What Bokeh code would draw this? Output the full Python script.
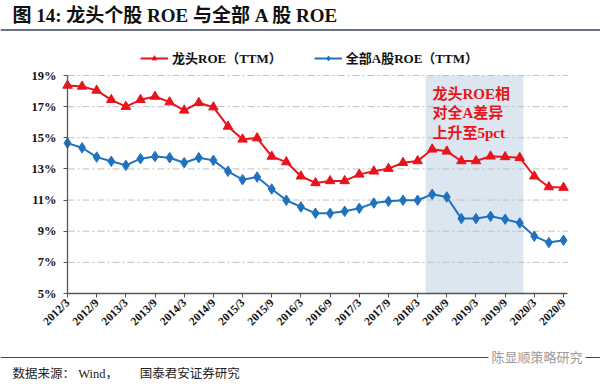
import math
from bokeh.plotting import figure
from bokeh.models import (Range1d, FixedTicker, Label, Legend, LegendItem,
                          BoxAnnotation, PrintfTickFormatter, Span)
from bokeh.embed import file_html
from bokeh.resources import INLINE

# ---------------- data ----------------
quarters = ["2012/3", "2012/6", "2012/9", "2012/12",
            "2013/3", "2013/6", "2013/9", "2013/12",
            "2014/3", "2014/6", "2014/9", "2014/12",
            "2015/3", "2015/6", "2015/9", "2015/12",
            "2016/3", "2016/6", "2016/9", "2016/12",
            "2017/3", "2017/6", "2017/9", "2017/12",
            "2018/3", "2018/6", "2018/9", "2018/12",
            "2019/3", "2019/6", "2019/9", "2019/12",
            "2020/3", "2020/6", "2020/9"]
leader_roe = [18.36, 18.30, 18.04, 17.44, 17.00, 17.44, 17.65, 17.29, 16.76, 17.25,
              16.97, 15.73, 14.90, 14.98, 13.80, 13.44, 12.53, 12.10, 12.23, 12.23,
              12.65, 12.85, 13.02, 13.40, 13.51, 14.26, 14.13, 13.51, 13.51, 13.81,
              13.77, 13.72, 12.53, 11.84, 11.80]
all_a_roe = [14.66, 14.36, 13.76, 13.49, 13.23, 13.66, 13.80, 13.72, 13.40, 13.72,
             13.55, 12.85, 12.31, 12.48, 11.71, 10.99, 10.56, 10.15, 10.15, 10.28,
             10.47, 10.81, 10.92, 10.99, 10.99, 11.37, 11.20, 9.81, 9.81, 9.96,
             9.77, 9.53, 8.68, 8.27, 8.42]
y_ticks = [5, 7, 9, 11, 13, 15, 17, 19]
shade_start, shade_end = 24.55, 31.25

title_text = "图 14:  龙头个股 ROE 与全部 A 股 ROE"
legend_labels = ["龙头ROE（TTM）", "全部A股ROE（TTM）"]
note_lines = ["龙头ROE相", "对全A差异", "上升至5pct"]
source_text = "数据来源： Wind，\u3000\u3000 国泰君安证券研究"
watermark_text = "陈显顺策略研究"

RED = "#E8141B"
BLUE = "#1F72BE"
MIX = "'Liberation Serif', 'Noto Sans CJK SC'"
SERIF = "Liberation Serif"

# ---------------- canvas / plot-area geometry (pixels) ----------------
W, H = 600, 386
PX0, PX1 = 67, 563          # pixel of first / last category
PY_TOP, PY_BOT = 75, 293    # pixel of 19% / 5%
y_lo, y_hi = y_ticks[0], y_ticks[-1]
n = len(quarters)
ux = (PX1 - PX0) / (n - 1)
uy = (PY_BOT - PY_TOP) / (y_hi - y_lo)
x_end = (n - 1) + 0.3       # right end of axis line / gridlines

x = list(range(n))

p = figure(width=W, height=H,
           x_range=Range1d(-PX0 / ux, (n - 1) + (W - PX1) / ux),
           y_range=Range1d(y_lo - (H - PY_BOT) / uy, y_hi + PY_TOP / uy),
           output_backend="svg", toolbar_location=None, min_border=0, title=None)
p.outline_line_color = None
p.background_fill_color = "white"
p.border_fill_color = "white"
p.grid.visible = False

# grid lines (dash-dot) over the plot area only
gy = y_ticks[1:]
p.segment(x0=[0] * len(gy), y0=gy, x1=[x_end] * len(gy), y1=gy,
          line_color="#BFBFBF", line_width=1, line_dash="7 3 2 3")

shade = BoxAnnotation(left=shade_start, right=shade_end, bottom=y_lo, top=y_hi,
                      fill_color="#DCE6F1", fill_alpha=1.0, line_color=None, level="underlay")
p.add_layout(shade)

r1 = p.line(x, leader_roe, line_color=RED, line_width=2)
s1 = p.scatter(x, leader_roe, marker="triangle", size=9.5, fill_color=RED, line_color=RED)
r2 = p.line(x, all_a_roe, line_color=BLUE, line_width=2)
s2 = p.scatter(x, all_a_roe, marker="diamond", size=10.5,
               fill_color=BLUE, line_color=BLUE)

# axes, pinned to the plot-area edges
p.xaxis.fixed_location = y_lo
p.xaxis.bounds = (0, x_end)
p.yaxis.fixed_location = 0
p.yaxis.bounds = (y_lo, y_hi)
p.yaxis.ticker = FixedTicker(ticks=y_ticks)
p.yaxis.formatter = PrintfTickFormatter(format="%d%%")
p.xaxis.ticker = FixedTicker(ticks=x[::2])
p.xaxis.major_label_overrides = {i: quarters[i] for i in x[::2]}
p.xaxis.major_label_orientation = math.pi / 4
for ax in (p.xaxis, p.yaxis):
    ax.axis_line_color = "#555555"
    ax.axis_line_width = 1.3
    ax.major_tick_line_color = "#555555"
    ax.major_tick_in = 0
    ax.major_tick_out = 4
    ax.minor_tick_line_color = None
    ax.major_label_text_font = SERIF
    ax.major_label_text_font_style = "bold"
    ax.major_label_text_color = "#111111"
p.yaxis.major_label_text_font_size = "12.5px"
p.yaxis.major_label_standoff = 7
p.xaxis.major_label_text_font_size = "11.5px"
p.xaxis.major_label_standoff = 3

legend = Legend(items=[LegendItem(label=legend_labels[0], renderers=[r1, s1]),
                       LegendItem(label=legend_labels[1], renderers=[r2, s2])],
                orientation="horizontal", location=(140, H - 67),
                label_text_font=MIX, label_text_font_style="bold",
                label_text_font_size="13px", label_text_color="#111111",
                glyph_width=28, glyph_height=12, label_height=12, label_standoff=4,
                spacing=32, padding=0, margin=0, border_line_color=None,
                background_fill_alpha=0)
p.add_layout(legend)

# title + rule
p.add_layout(Label(x=12, y=H - 15, x_units="screen", y_units="screen", text=title_text,
                   text_font=MIX, text_font_style="bold", text_font_size="19px",
                   text_color="#111111", text_baseline="middle"))
p.add_layout(Span(location=H - 29.5, location_units="screen", dimension="width",
                  line_color="#3B4560", line_width=1.5))

# annotation in the shaded band
for i, line in enumerate(note_lines):
    p.add_layout(Label(x=432, y=H - 93 - 19.5 * i, x_units="screen", y_units="screen",
                       text=line, text_font=MIX, text_font_style="bold",
                       text_font_size="15px", text_color=RED, text_baseline="middle"))

# footer rule, watermark, source
p.add_layout(Span(location=H - 357, location_units="screen", dimension="width",
                  line_color="#3B4560", line_width=1.2))
p.add_layout(Label(x=585, y=H - 356, x_units="screen", y_units="screen",
                   text=watermark_text, text_font="Noto Sans CJK SC",
                   text_font_size="13px", text_color="#9A9A9A", text_align="right",
                   text_baseline="middle", background_fill_color="white", padding=3))
p.add_layout(Label(x=12, y=H - 373, x_units="screen", y_units="screen",
                   text=source_text, text_font=MIX, text_font_size="12.5px",
                   text_color="#222222", text_baseline="middle"))

open("out.html", "w").write(file_html(p, INLINE))
